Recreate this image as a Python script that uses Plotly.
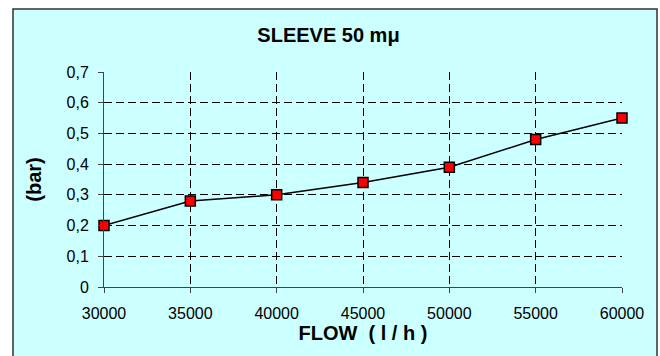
import plotly.graph_objects as go

# Chart data.
flow = [30000, 35000, 40000, 45000, 50000, 55000, 60000]
pressure = [0.20, 0.28, 0.30, 0.34, 0.39, 0.48, 0.55]
title = "SLEEVE 50 mμ"

fig = go.Figure()
fig.add_trace(go.Scatter(
    x=flow, y=pressure, mode="lines+markers", cliponaxis=False,
    line=dict(color="black", width=1.5),
    marker=dict(symbol="square", size=10, color="#FF0000",
                line=dict(color="black", width=1.5)),
))

font = "Liberation Sans, Arial, sans-serif"
axis_common = dict(
    showline=True, linecolor="#444444", linewidth=1,
    ticks="outside", ticklen=5, tickcolor="#444444",
    showgrid=True, gridcolor="black", gridwidth=1, griddash="8px,4px",
    zeroline=False, tickfont=dict(family=font, size=16, color="black"),
)

fig.update_layout(
    width=660, height=356,
    margin=dict(l=104, r=38, t=72, b=69),
    paper_bgcolor="white", plot_bgcolor="rgba(0,0,0,0)",
    separators=",.",
    showlegend=False,
    title=dict(text=f"<b>{title}</b>", x=0.4977, xanchor="center",
               y=1 - 35 / 356, yanchor="middle",
               font=dict(family=font, size=20, color="black")),
    xaxis=dict(axis_common, range=[30000, 60000], tickvals=flow,
               tickformat="d", ticklabelstandoff=7,
               title=dict(text="<b>FLOW  ( l / h )</b>", standoff=2,
                          font=dict(family=font, size=20, color="black"))),
    yaxis=dict(axis_common, range=[0, 0.7], dtick=0.1, tickformat=".1~f",
               ticklabelstandoff=6,
               title=dict(text="<b>(bar)</b>", standoff=19,
                          font=dict(family=font, size=20, color="black"))),
    # Light cyan chart frame around everything.
    shapes=[dict(type="rect", xref="paper", yref="paper", layer="below",
                 x0=-0.1757, x1=1.0676, y0=-0.4, y1=1.293,
                 fillcolor="#CCFFFF", line=dict(color="#333333", width=1.5))],
)

# Drop the default 8px body margin so the figure fills the window.
fig.write_html("out.html", config={"displayModeBar": False},
               post_script="document.body.style.margin='0';")
